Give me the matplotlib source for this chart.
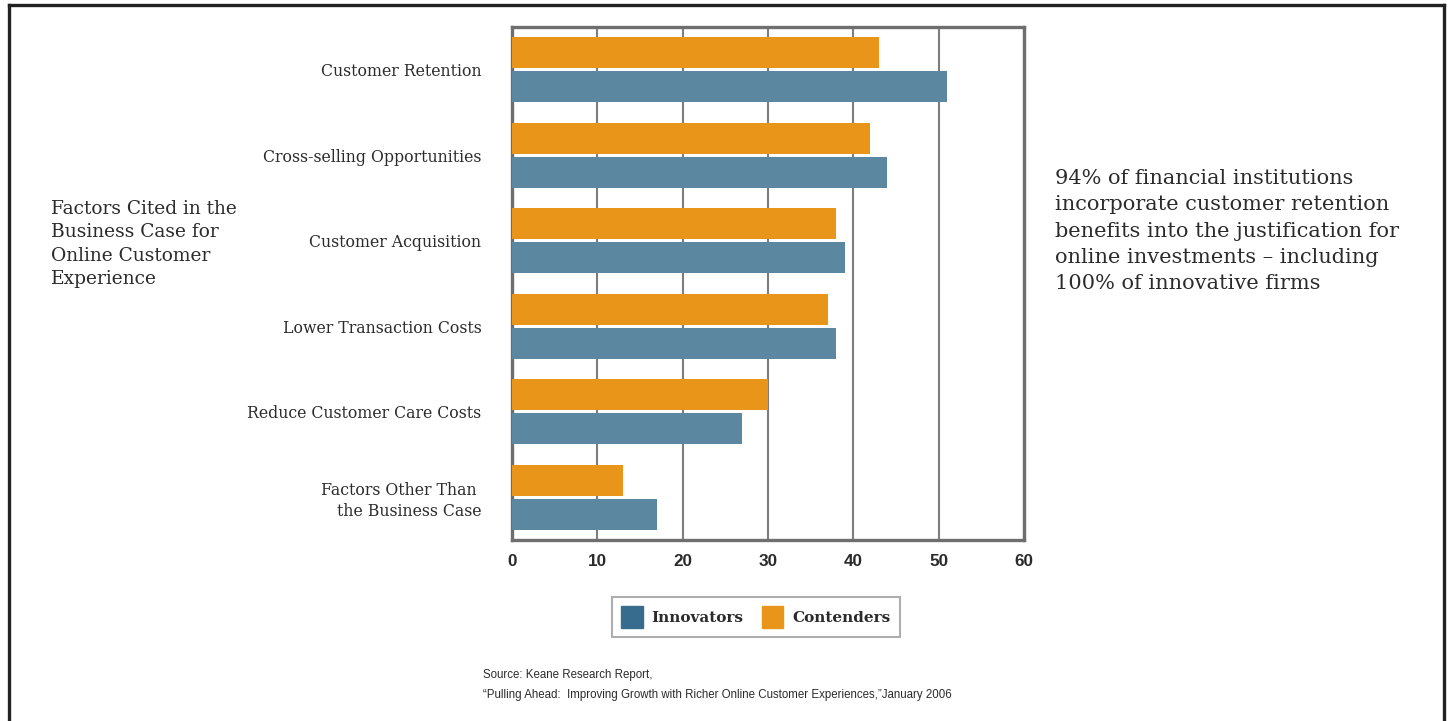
import matplotlib
matplotlib.use("Agg")
import matplotlib.pyplot as plt
from matplotlib import font_manager
from matplotlib.lines import Line2D
from matplotlib.patches import Patch
import numpy as np

# Data
categories = [
    "Customer Retention",
    "Cross-selling Opportunities",
    "Customer Acquisition",
    "Lower Transaction Costs",
    "Reduce Customer Care Costs",
    "Factors Other Than \nthe Business Case",
]
contenders = [43, 42, 38, 37, 30, 13]
innovators = [51, 44, 39, 38, 27, 17]
xticks = [0, 10, 20, 30, 40, 50, 60]

orange = "#E8951A"
blue = "#5B88A0"
blue_dark = "#386C8F"
text_col = "#2b2b2b"
serif = "DejaVu Serif"

# condensed sans for the source note if there is one
names = {f.name for f in font_manager.fontManager.ttflist}
narrow = "Liberation Sans Narrow" if "Liberation Sans Narrow" in names else "Liberation Sans"
src_size = 11 if narrow == "Liberation Sans Narrow" else 8.3

fig = plt.figure(figsize=(14.48, 7.21), dpi=100)
W, H = 1448, 721

# axes placed in pixel terms of the reference
ax = fig.add_axes([512 / W, 1 - 540 / H, 512 / W, 513 / H])

y = np.arange(len(categories))
h = 0.363
off = 0.199
ax.barh(y - off, contenders, height=h, color=orange, zorder=3)
ax.barh(y + off, innovators, height=h, color=blue, zorder=3)

ax.set_xlim(0, 60)
ax.set_ylim(len(categories) - 0.5, -0.5)
ax.set_xticks(xticks)
ax.set_xticklabels([str(t) for t in xticks], fontfamily="Liberation Sans",
                   fontweight="bold", fontsize=12.3, color=text_col)
ax.set_yticks(y)
ax.set_yticklabels(categories, fontfamily=serif, fontsize=11.3, color=text_col,
                   ha="right", multialignment="right", linespacing=1.3)
ax.tick_params(axis="both", length=0)
ax.tick_params(axis="x", pad=10)
ax.tick_params(axis="y", pad=22)
ax.grid(axis="x", color="#7d7d7d", lw=1.5, zorder=1)
for s in ax.spines.values():
    s.set_color("#6e6e6e")
    s.set_linewidth(2.4)

# outer frame (left, top, right)
frame_kw = dict(color="#222222", lw=2.4, transform=fig.transFigure)
fig.add_artist(Line2D([9 / W, 9 / W], [0, 1 - 5 / H], **frame_kw))
fig.add_artist(Line2D([9 / W, 1444 / W], [1 - 5 / H, 1 - 5 / H], **frame_kw))
fig.add_artist(Line2D([1444 / W, 1444 / W], [0, 1 - 5 / H], **frame_kw))

# left side title
fig.text(51 / W, 1 - 244 / H,
         "Factors Cited in the\nBusiness Case for\nOnline Customer\nExperience",
         fontfamily=serif, fontsize=13.4, color=text_col, va="center", ha="left",
         linespacing=1.38)

# right note
fig.text(1055 / W, 1 - 231 / H,
         "94% of financial institutions\nincorporate customer retention\n"
         "benefits into the justification for\nonline investments \u2013 including\n"
         "100% of innovative firms",
         fontfamily=serif, fontsize=15, color=text_col, va="center", ha="left",
         linespacing=1.48)

# legend
handles = [Patch(color=blue_dark, label="Innovators"),
           Patch(color=orange, label="Contenders")]
leg = fig.legend(handles=handles, loc="center", bbox_to_anchor=(756 / W, 1 - 617 / H),
                 ncol=2, frameon=True, fancybox=False, handlelength=1.4,
                 handleheight=1.9, handletextpad=0.6, columnspacing=1.2,
                 borderpad=0.6, prop={"family": serif, "weight": "bold", "size": 11})
leg.get_frame().set_edgecolor("#9a9a9a")
leg.get_frame().set_linewidth(1.5)
for t in leg.get_texts():
    t.set_color(text_col)

# source
fig.text(483 / W, 1 - 675 / H, "Source: Keane Research Report,",
         fontfamily=narrow, fontsize=src_size, color=text_col, va="center")
fig.text(483 / W, 1 - 695 / H,
         "\u201cPulling Ahead:  Improving Growth with Richer Online Customer Experiences,\u201dJanuary 2006",
         fontfamily=narrow, fontsize=src_size, color=text_col, va="center")

fig.savefig("out.png", dpi=100, facecolor="white")
